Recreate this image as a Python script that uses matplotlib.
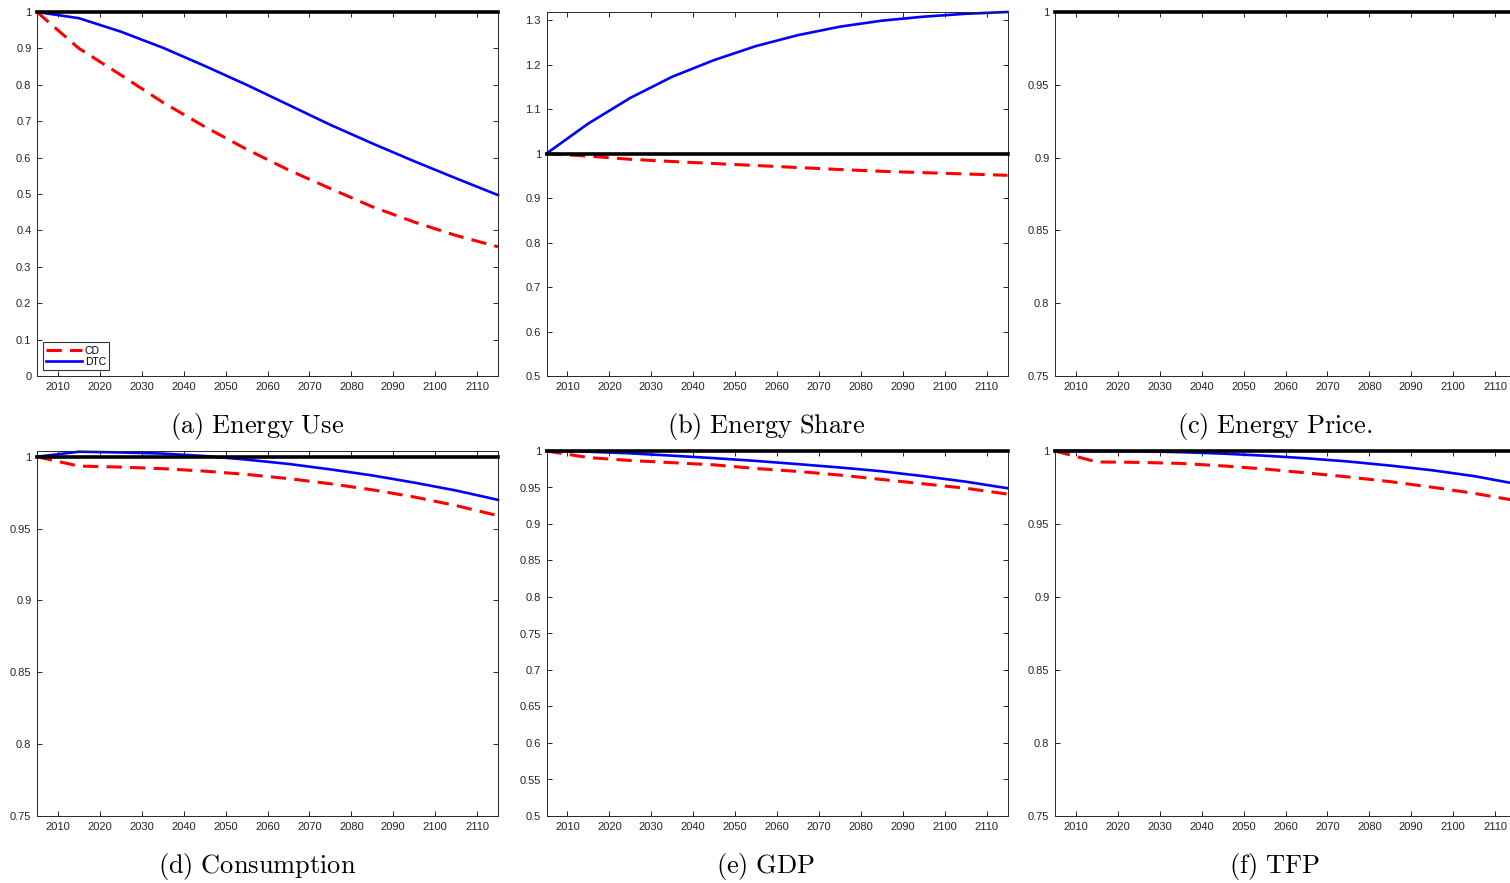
import matplotlib
matplotlib.use('Agg')
import matplotlib.pyplot as plt
import numpy as np
from matplotlib.ticker import FuncFormatter

plt.rcParams['font.family'] = ['Liberation Sans', 'DejaVu Sans']
plt.rcParams['mathtext.fontset'] = 'cm'

# model periods (10-year steps)
years = np.arange(2005, 2116, 10)
xticks = np.arange(2010, 2111, 10)

# baseline (normalised to 1)
baseline = np.ones(len(years))

# (a) energy use
energy_use_cd = [1.0, 0.900, 0.827, 0.752, 0.685, 0.623, 0.566, 0.515, 0.465, 0.423, 0.386, 0.355]
energy_use_dtc = [1.0, 0.983, 0.946, 0.902, 0.852, 0.800, 0.745, 0.690, 0.639, 0.590, 0.543, 0.497]

# (b) energy share
energy_share_cd = [1.0, 0.994, 0.987, 0.982, 0.9775, 0.973, 0.9685, 0.964, 0.960, 0.957, 0.954, 0.951]
energy_share_dtc = [1.0, 1.0675, 1.125, 1.1725, 1.210, 1.2415, 1.266, 1.285, 1.2985, 1.3075, 1.314, 1.318]

# (d) consumption
cons_cd = [1.0, 0.9935, 0.9928, 0.9917, 0.9900, 0.9877, 0.9848, 0.9812, 0.9770, 0.9720, 0.9660, 0.9590]
cons_dtc = [1.0, 1.0035, 1.0030, 1.0022, 1.0005, 0.9980, 0.9950, 0.9912, 0.9870, 0.9820, 0.9765, 0.9700]

# (e) GDP
gdp_cd = [1.0, 0.991, 0.987, 0.984, 0.981, 0.976, 0.972, 0.967, 0.961, 0.955, 0.949, 0.941]
gdp_dtc = [1.0, 0.999, 0.9968, 0.9936, 0.9902, 0.9864, 0.982, 0.9774, 0.9722, 0.9655, 0.958, 0.949]

# (f) TFP
tfp_cd = [1.0, 0.9925, 0.9922, 0.9915, 0.9898, 0.9877, 0.9850, 0.9822, 0.9790, 0.9752, 0.9710, 0.9660]
tfp_dtc = [1.0, 1.0, 0.9998, 0.9992, 0.9982, 0.9968, 0.9950, 0.9928, 0.9900, 0.9868, 0.9828, 0.9775]

W, H = 1510, 883
fig = plt.figure(figsize=(W / 100, H / 100), dpi=100)

col_left = [37, 546.5, 1055]
ax_w = 461
rows = [(12, 376), (451, 816)]
caption_x = [257, 766, 1275]
caption_y = [427, 867]

panels = [
    ('(a)\\ Energy\\ Use', energy_use_cd, energy_use_dtc, (0, 1.0), np.arange(0, 1.01, 0.1)),
    ('(b)\\ Energy\\ Share', energy_share_cd, energy_share_dtc, (0.5, 1.318), np.arange(0.5, 1.31, 0.1)),
    ('(c)\\ Energy\\ Price.', None, None, (0.75, 1.0), np.arange(0.75, 1.001, 0.05)),
    ('(d)\\ Consumption', cons_cd, cons_dtc, (0.75, 1.004), np.arange(0.75, 1.001, 0.05)),
    ('(e)\\ GDP', gdp_cd, gdp_dtc, (0.5, 1.0), np.arange(0.5, 1.001, 0.05)),
    ('(f)\\ TFP', tfp_cd, tfp_dtc, (0.75, 1.0), np.arange(0.75, 1.001, 0.05)),
]

fmt = FuncFormatter(lambda v, p: '%g' % round(v, 2))
gray = '#262626'

for i, (title, cd, dtc, ylim, yticks) in enumerate(panels):
    r, c = divmod(i, 3)
    top, bot = rows[r]
    ax = fig.add_axes([col_left[c] / W, (H - bot) / H, ax_w / W, (bot - top) / H])
    if cd is not None:
        ax.plot(years, cd, color='r', lw=2.2, dashes=(5, 2.7), label='CD', clip_on=False, zorder=2)
        ax.plot(years, dtc, color='b', lw=1.9, label='DTC', clip_on=False, zorder=2)
    # benchmark line drawn on top
    ax.plot(years, baseline, color='k', lw=2.6, clip_on=False, zorder=3)
    ax.set_xlim(2005, 2115)
    ax.set_ylim(*ylim)
    ax.set_xticks(xticks)
    ax.set_yticks(yticks)
    ax.yaxis.set_major_formatter(fmt)
    ax.tick_params(direction='in', length=3.5, width=0.7, top=True, right=True,
                   labelsize=8, colors=gray, pad=4)
    for s in ax.spines.values():
        s.set_color(gray)
        s.set_linewidth(0.7)
    if i == 0:
        leg = ax.legend(loc='lower left', fontsize=7.5, frameon=True, fancybox=False,
                        edgecolor='k', handlelength=3.4, borderpad=0.3,
                        labelspacing=0.1, handletextpad=0.3, borderaxespad=0.6)
        leg.get_frame().set_linewidth(0.8)
    fig.text(caption_x[c] / W, 1 - caption_y[r] / H, '$\\mathrm{' + title + '}$',
             ha='center', va='center', fontsize=19)

fig.savefig('out.png', dpi=100)
